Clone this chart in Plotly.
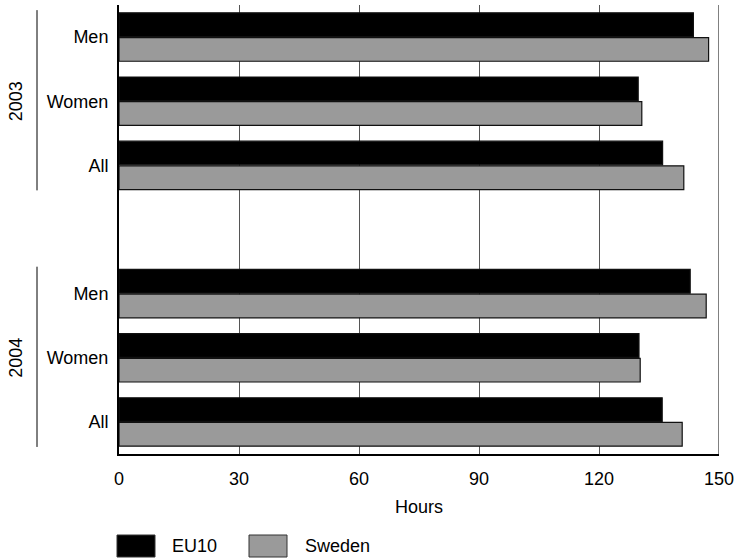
import plotly.graph_objects as go

# ---- data ----
years = ["2003", "2004"]
groups = ["Men", "Women", "All"]
series_names = ["EU10", "Sweden"]
eu10_2003 = [143.6, 129.8, 135.9]
sweden_2003 = [147.4, 130.7, 141.2]
eu10_2004 = [142.8, 130.0, 135.8]
sweden_2004 = [146.8, 130.3, 140.8]
x_ticks = [0, 30, 60, 90, 120, 150]
axis_title = "Hours"

colors = {"EU10": "#000000", "Sweden": "#9a9a9a"}
FONT = "Liberation Sans, Arial, sans-serif"
FS = 18

# category positions: 3 rows per year, with one empty row between years
pos_2003 = [0, 1, 2]
pos_2004 = [4, 5, 6]
ypos = pos_2003 + pos_2004
ylabels = groups + groups
eu10 = eu10_2003 + eu10_2004
sweden = sweden_2003 + sweden_2004

fig = go.Figure()
for name, vals in zip(series_names, [eu10, sweden]):
    fig.add_trace(go.Bar(
        y=ypos, x=vals, name=name, orientation="h",
        marker=dict(color=colors[name], line=dict(color="#111111", width=1.2)),
        showlegend=False, hoverinfo="x+name",
    ))

W, H = 735, 559
ml, mr, mt, mb = 119, 16, 5, 105
pw, ph = W - ml - mr, H - mt - mb
def px_x(p):
    return (p - ml) / pw
def px_y(p):
    return (H - mb - p) / ph

# year group labels and bracket lines
for yr, pos in zip(years, [pos_2003, pos_2004]):
    fig.add_shape(type="line", xref="paper", yref="y",
                  x0=px_x(37), x1=px_x(37), y0=pos[0] - 0.42, y1=pos[-1] + 0.39,
                  line=dict(color="#000000", width=1))
    fig.add_annotation(xref="paper", yref="y", x=px_x(16), y=(pos[0] + pos[-1]) / 2,
                       text=yr, textangle=-90, showarrow=False,
                       xanchor="center", yanchor="middle",
                       font=dict(family=FONT, size=FS, color="#000000"))

# right border line at max tick
fig.add_shape(type="line", xref="x", yref="paper", x0=x_ticks[-1], x1=x_ticks[-1],
              y0=0, y1=1, line=dict(color="#000000", width=1))

# custom legend
leg_items = [("EU10", 117, 155, 170), ("Sweden", 249, 287, 303)]
for name, x0, x1, tx in leg_items:
    fig.add_shape(type="rect", xref="paper", yref="paper",
                  x0=px_x(x0), x1=px_x(x1), y0=px_y(557), y1=px_y(535),
                  fillcolor=colors[name], line=dict(color="#333333", width=1))
    fig.add_annotation(xref="paper", yref="paper", x=px_x(tx), y=px_y(546),
                       text=name, showarrow=False, xanchor="left", yanchor="middle",
                       font=dict(family=FONT, size=FS, color="#000000"))

fig.update_layout(
    width=W, height=H, autosize=False,
    margin=dict(l=ml, r=mr, t=mt, b=mb),
    paper_bgcolor="white", plot_bgcolor="white",
    barmode="group", bargap=0.23, bargroupgap=0.04,
    font=dict(family=FONT, size=FS, color="#000000"),
    xaxis=dict(range=[0, 150], tickvals=x_ticks, ticks="", showgrid=True,
               gridcolor="#555555", gridwidth=1, zeroline=False,
               showline=True, linecolor="#000000", linewidth=2,
               ticklabelstandoff=7, automargin=False,
               title=dict(text=axis_title, font=dict(family=FONT, size=FS), standoff=13)),
    yaxis=dict(range=[6.5, -0.5], tickvals=ypos, ticktext=ylabels, ticks="",
               showgrid=False, zeroline=False, showline=True, automargin=False,
               linecolor="#000000", linewidth=2, ticklabelstandoff=5),
)

fig.write_html("out.html", config={"displayModeBar": False},
               post_script="document.body.style.margin='0';document.body.style.overflow='hidden';")
